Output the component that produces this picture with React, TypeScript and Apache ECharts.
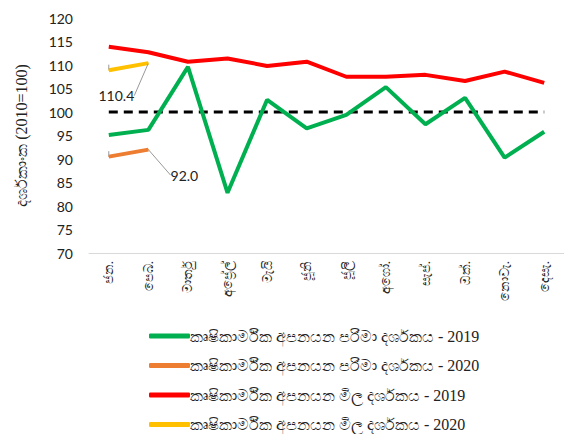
import React, { useEffect, useRef } from "react";
import * as echarts from "echarts";

const months = ["ජන.", "පෙබ.", "මාර්තු", "අප්‍රේල්", "මැයි", "ජූනි", "ජූලි", "අගෝ.", "සැප්.", "ඔක්.", "නොවැ.", "දෙසැ."];
const volume2019 = [95.1, 96.2, 109.6, 82.8, 102.6, 96.5, 99.4, 105.3, 97.4, 103.0, 90.3, 95.8];
const volume2020 = [90.5, 92.0];
const price2019 = [113.9, 112.7, 110.7, 111.4, 109.8, 110.7, 107.5, 107.5, 107.9, 106.6, 108.6, 106.2];
const price2020 = [108.9, 110.4];
const baseline = [100, 100, 100, 100, 100, 100, 100, 100, 100, 100, 100, 100];
const names = [
  "කෘෂිකාර්මික අපනයන පරිමා දර්ශකය - 2019",
  "කෘෂිකාර්මික අපනයන පරිමා දර්ශකය - 2020",
  "කෘෂිකාර්මික අපනයන මිල දර්ශකය - 2019",
  "කෘෂිකාර්මික අපනයන මිල දර්ශකය - 2020",
];

export default function App() {
  const ref = useRef<HTMLDivElement>(null);
  useEffect(() => {
    const chart = echarts.init(ref.current!, null, { renderer: "svg" });
    const lastLabel = (dx: number, dy: number) => ({
      symbol: "circle",
      symbolSize: 1,
      showSymbol: true,
      label: {
        show: true,
        formatter: (p: any) => (p.dataIndex === 1 ? p.value.toFixed(1) : ""),
        fontSize: 14,
        color: "#222",
        fontFamily: "Lato",
        position: "top",
      },
      labelLine: { show: true, lineStyle: { color: "#999", width: 1 } },
      labelLayout: (p: any) => (p.dataIndex === 1 ? { dx, dy } : {}),
    });
    chart.setOption({
      animation: false,
      grid: { left: 89, right: -5, top: 18, bottom: 181 },
      xAxis: {
        type: "category",
        data: months,
        boundaryGap: true,
        axisLine: { lineStyle: { color: "#d9d9d9", width: 1 } },
        axisTick: { show: false },
        axisLabel: { rotate: 90, interval: 0, fontSize: 13, color: "#222", margin: 8, fontFamily: "serif" },
      },
      yAxis: {
        type: "value",
        min: 70,
        max: 120,
        interval: 5,
        splitLine: { show: false },
        axisLine: { show: false },
        axisTick: { show: false },
        axisLabel: { fontSize: 14, color: "#222", margin: 16, fontFamily: "Lato" },
        name: "දර්ශකාංක (2010=100)",
        nameLocation: "middle",
        nameGap: 60,
        nameTextStyle: { fontSize: 16, color: "#222", fontFamily: "Liberation Serif" },
      },
      legend: {
        data: names,
        orient: "vertical",
        left: 144,
        top: 323,
        height: 110,
        icon: "roundRect",
        itemWidth: 41,
        itemHeight: 5,
        itemGap: 13.5,
        textStyle: { fontSize: 16, color: "#222", fontFamily: "Liberation Serif", padding: [0, 0, 0, -5] },
      },
      series: [
        {
          name: "base",
          type: "line",
          data: baseline,
          symbol: "none",
          lineStyle: { color: "#000", width: 3, type: [9, 6] },
          silent: true,
        },
        { name: names[0], type: "line", data: volume2019, symbol: "none", color: "#00B050", lineStyle: { width: 4 } },
        { name: names[1], type: "line", data: volume2020, color: "#ED7D31", lineStyle: { width: 4 }, ...lastLabel(36, 38) },
        { name: names[2], type: "line", data: price2019, symbol: "none", color: "#FF0000", lineStyle: { width: 4 } },
        { name: names[3], type: "line", data: price2020, color: "#FFC000", lineStyle: { width: 4 }, ...lastLabel(-32, 45) },
      ],
    });
    return () => chart.dispose();
  }, []);
  return <div ref={ref} style={{ width: 564, height: 434, position: "absolute", left: 0, top: 0 }} />;
}
